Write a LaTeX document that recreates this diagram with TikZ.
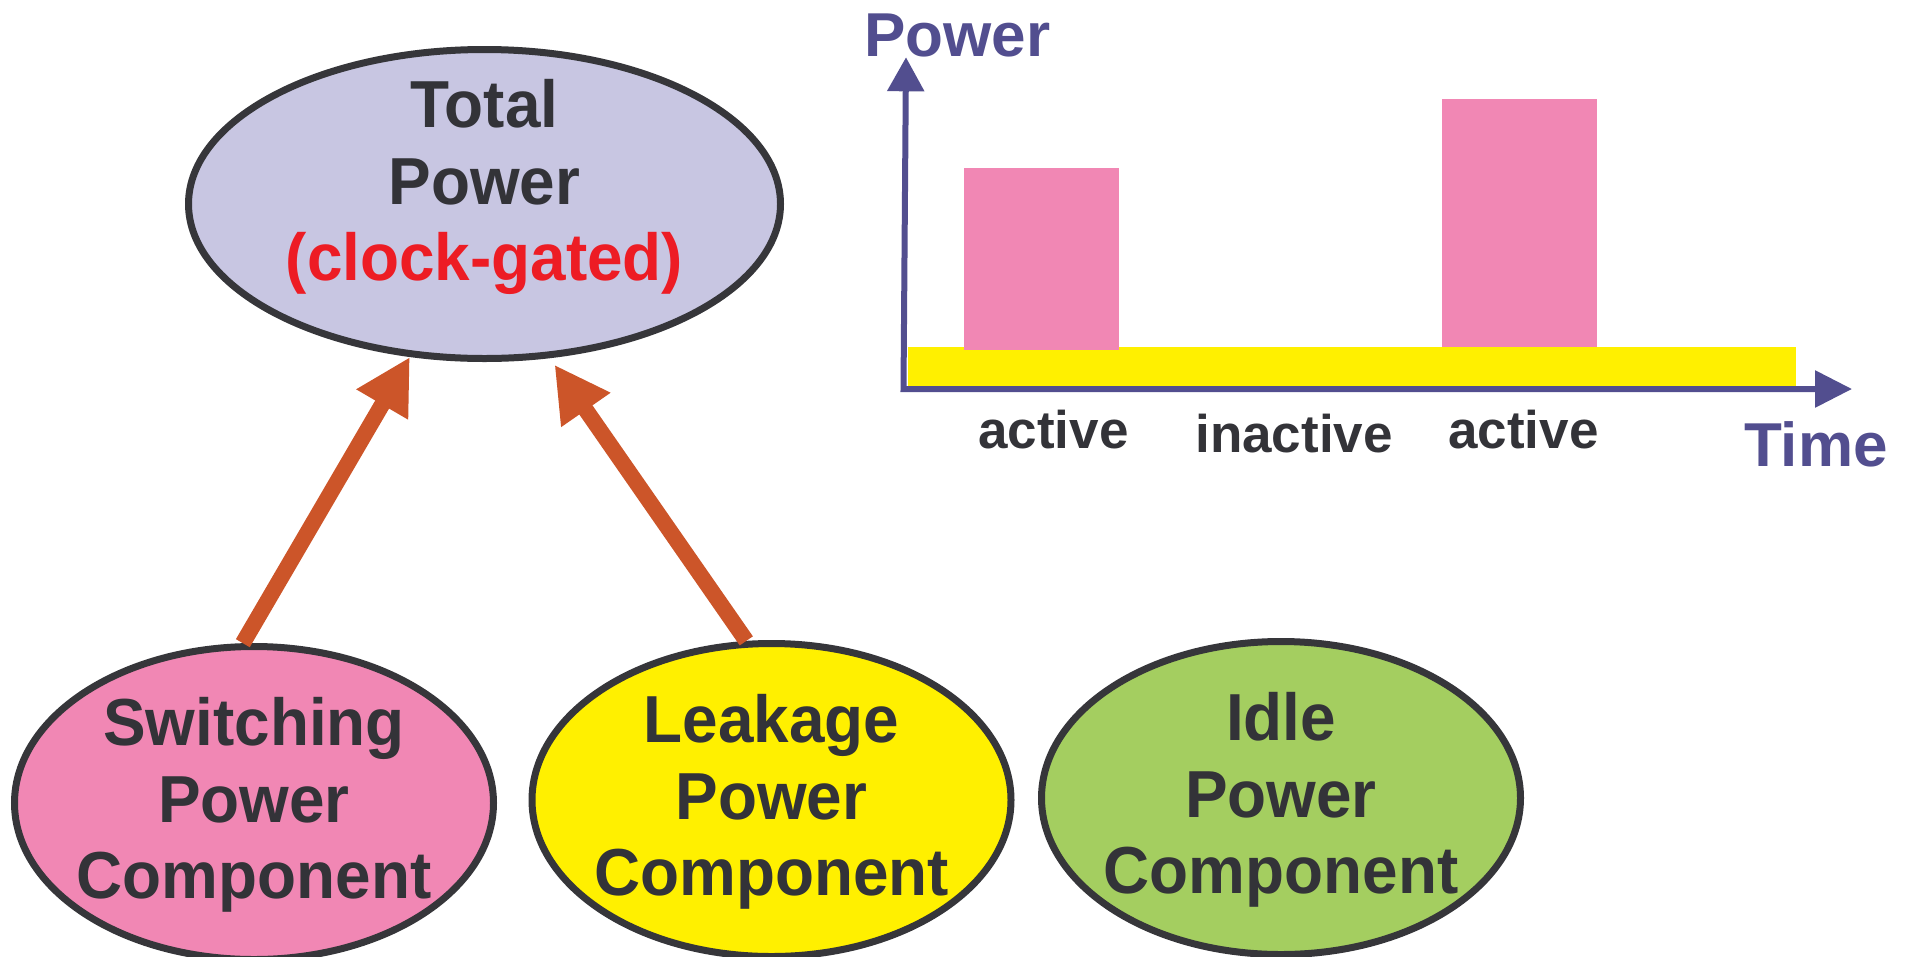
\documentclass[tikz,border=0pt]{standalone}
\usepackage{fontspec}
\setmainfont{Liberation Sans}
\newfontfamily\blobfont[FakeStretch=0.96]{Liberation Sans}
\usetikzlibrary{arrows.meta,shapes.geometric}

\definecolor{ink}{RGB}{51,51,56}
\definecolor{rim}{RGB}{54,54,58}
\definecolor{lavender}{RGB}{200,198,226}
\definecolor{rose}{RGB}{241,135,180}
\definecolor{lemon}{RGB}{255,240,0}
\definecolor{leaf}{RGB}{164,206,96}
\definecolor{alert}{RGB}{237,28,36}
\definecolor{axisblue}{RGB}{82,78,143}
\definecolor{rust}{RGB}{204,85,41}

\begin{document}
\begin{tikzpicture}[x=1pt,y=-1pt,
  blob/.style={ellipse, draw=rim, line width=7pt, inner sep=0pt, outer sep=3.5pt,
               minimum width=479pt, minimum height=313pt},
  blobtext/.style={text=ink, font=\blobfont\bfseries\fontsize{66.5}{76.5}\selectfont,
                   align=center, inner sep=0pt},
  feed/.style={draw=rust, line width=16pt, -{Triangle[length=55pt,width=56pt]}},
  axisline/.style={draw=axisblue, line width=6pt, line join=miter},
  axislabel/.style={text=axisblue, font=\bfseries\fontsize{62}{70}\selectfont, inner sep=0pt},
  phase/.style={text=ink, font=\bfseries\fontsize{53}{60}\selectfont, inner sep=0pt}]

\useasboundingbox (0,0) rectangle (1911,956);
\clip (0,0) rectangle (1911,956);

% power components
\node[blob, fill=lavender, minimum width=592pt, minimum height=309pt] (tot) at (484.5,204) {};
\node[blob, fill=rose]  (sw)   at (254,803) {};
\node[blob, fill=lemon] (leak) at (771.5,800) {};
\node[blob, fill=leaf]  (idle) at (1281,798) {};

\node[blobtext] (totText)  at ([yshift=17pt]tot.center)  {Total\\Power\\\textcolor{alert}{(clock-gated)}};
\node[blobtext] (swText)   at ([yshift=-2pt]sw.center)   {Switching\\Power\\Component};
\node[blobtext] (leakText) at ([yshift=-2pt]leak.center) {Leakage\\Power\\Component};
\node[blobtext] (idleText) at ([yshift=-2pt]idle.center) {Idle\\Power\\Component};

% contributions to the total
\draw[feed] (sw.94.5) -- (tot.244.8);
\draw[feed, shorten >=8pt] (leak.99.5) -- (tot.293.7);

% power over time
\fill[lemon] (908,346.7) rectangle (1796,386.7);
\fill[rose] (964,168) rectangle (1118.5,350);
\fill[rose] (1442,99) rectangle (1597.3,346.7);
\draw[axisline, {Triangle[length=37pt,width=36pt]}-{Triangle[length=34pt,width=36pt]}]
  (1852,389) -- (903.5,389) -- (906,57.3);

\node[axislabel, anchor=base west] (powerLabel) at (864,56.7) {Power};
\node[axislabel, anchor=base west] (timeLabel) at (1744,466.7) {Time};
\node[phase, anchor=base] (act1)  at (1053.5,448) {active};
\node[phase, anchor=base] (inact) at (1294,452) {inactive};
\node[phase, anchor=base] (act2)  at (1523.5,448) {active};
\end{tikzpicture}
\end{document}
